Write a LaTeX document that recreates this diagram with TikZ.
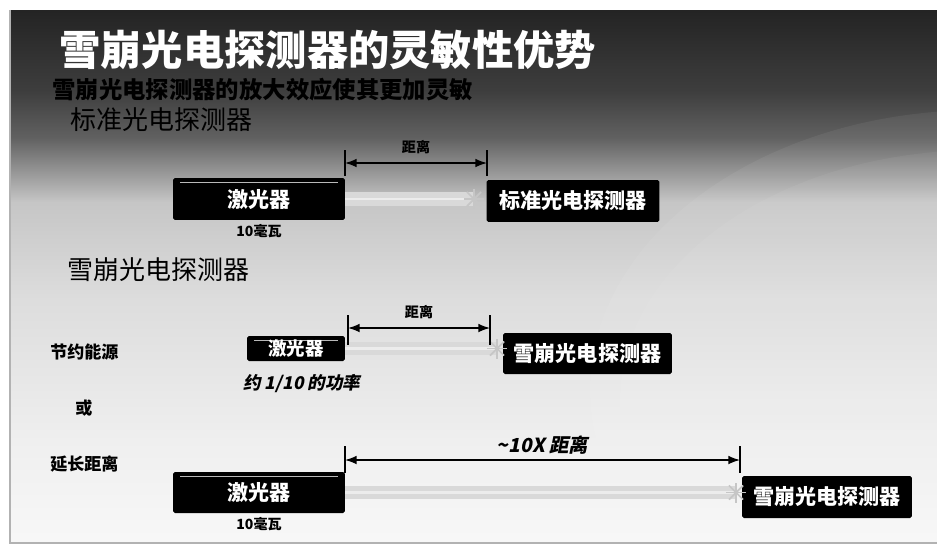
\documentclass[tikz,border=0pt]{standalone}
\usepackage{fontspec}
\setmainfont{Noto Sans CJK SC}
\newfontfamily\slfont[FakeSlant=0.2]{Noto Sans CJK SC}
\usetikzlibrary{positioning,arrows.meta}

% sfondo della slide (scuro in alto, chiaro in basso)
\pgfdeclareverticalshading{slidebg}{100bp}{color(0bp)=(gray!6); color(25bp)=(gray!6); color(34bp)=(gray!12); color(48bp)=(gray!27); color(57bp)=(gray!45); color(63bp)=(black!62); color(67.5bp)=(black!76); color(75bp)=(black!86); color(100bp)=(black!86)}

\begin{document}
\begin{tikzpicture}[x=0.02cm, y=-0.02cm, >=Latex,
    box/.style={fill=black, text=white, rounded corners=1pt, inner sep=0pt,
        font=\fontsize{12}{12}\selectfont\bfseries},
    laser/.style={box, path picture={\draw[gray!55, line width=0.5pt]
        ([xshift=4pt,yshift=-2.5pt]path picture bounding box.north west) --
        ([xshift=-4pt,yshift=-2.5pt]path picture bounding box.north east);}},
    label/.style={anchor=west, inner sep=0pt, font=\fontsize{9.7}{10}\selectfont\bfseries},
    note/.style={inner sep=0pt, font=\fontsize{8}{8}\selectfont\bfseries},
    tick/.style={line width=0.9pt},
    dim/.style={<->, line width=0.8pt},
    beam/.style={draw=gray!30, double=white!85!gray, line width=3pt, double distance=1.6pt},
    ray/.style={gray!45, line width=1pt}]

    \useasboundingbox (0,0) rectangle (937,548);

    % 1. Sfondo
    \fill[white] (0,0) rectangle (937,548);
    \shade[shading=slidebg] (10,10) rectangle (937,543);
    \begin{scope}
        \clip (10,10) rectangle (937,543);
        \fill[white, opacity=0.06] (980,390) ellipse (7.8cm and 5.6cm);
        \fill[white, opacity=0.05] (980,400) ellipse (7.2cm and 5.0cm);
    \end{scope}
    \draw[gray!60, line width=0.6pt] (10,10) -- (10,543) -- (937,543);

    % 2. Titoli
    \node[anchor=west, inner sep=0pt, text=white, font=\fontsize{23.5}{24}\selectfont\bfseries]
        (title) at (59,50) {雪崩光电探测器的灵敏性优势};
    \node[anchor=west, inner sep=0pt, font=\fontsize{13.3}{14}\selectfont\bfseries]
        (sub) at (52,90) {雪崩光电探测器的放大效应使其更加灵敏};
    \node[anchor=west, inner sep=0pt, font=\fontsize{14.8}{15}\selectfont]
        (std) at (70,120) {标准光电探测器};
    \node[anchor=west, inner sep=0pt, font=\fontsize{14.8}{15}\selectfont]
        (apd) at (67,270) {雪崩光电探测器};

    % 3. Riga 1: fotodiodo standard
    \node[laser, minimum width=3.44cm, minimum height=0.84cm] (las1) at (259,199) {激光器};
    \node[box, minimum width=3.46cm, minimum height=0.84cm] (det1) at (573,201) {标准光电探测器};
    \node[note, below=2pt of las1] (pw1) {10毫瓦};
    \coordinate (s1) at (474,199);
    \draw[beam] (las1.east) -- (s1);
    \foreach \a in {0,45,...,315} \draw[ray] (s1) -- ++(\a:10);
    \coordinate (m1a) at (345,163);
    \coordinate (m1b) at (487,163);
    \draw[tick] (m1a) ++(0,-13) -- ++(0,26);
    \draw[tick] (m1b) ++(0,-13) -- ++(0,26);
    \draw[dim] (m1a) -- node[note, above=5pt] (d1) {距离} (m1b);

    % 4. Riga 2: risparmio energetico
    \node[label] (save) at (50,352) {节约能源};
    \node[laser, minimum width=1.96cm, minimum height=0.5cm, font=\fontsize{10.5}{10.5}\selectfont\bfseries]
        (las2) at (296,348.5) {激光器};
    \node[box, minimum width=3.38cm, minimum height=0.82cm] (det2) at (587.5,353.5) {雪崩光电探测器};
    \node[anchor=west, inner sep=0pt, font=\slfont\fontsize{10}{10}\selectfont\bfseries]
        (pw2) at (243,384) {约 1/10 的功率};
    \coordinate (s2) at (497,348.5);
    \draw[beam] (las2.east) -- (s2);
    \foreach \a in {0,45,...,315} \draw[ray] (s2) -- ++(\a:10);
    \coordinate (m2a) at (348,328);
    \coordinate (m2b) at (490,328);
    \draw[tick] (m2a) ++(0,-13) -- ++(0,30);
    \draw[tick] (m2b) ++(0,-13) -- ++(0,30);
    \draw[dim] (m2a) -- node[note, above=5pt] (d2) {距离} (m2b);

    \node[label] (or) at (75,408) {或};

    % 5. Riga 3: distanza maggiore
    \node[label] (far) at (50,464) {延长距离};
    \node[laser, minimum width=3.44cm, minimum height=0.82cm] (las3) at (259,492.5) {激光器};
    \node[box, minimum width=3.4cm, minimum height=0.84cm] (det3) at (827,497) {雪崩光电探测器};
    \node[note, below=2pt of las3] (pw3) {10毫瓦};
    \coordinate (s3) at (736,492.5);
    \draw[beam] (las3.east) -- (s3);
    \foreach \a in {0,45,...,315} \draw[ray] (s3) -- ++(\a:10);
    \coordinate (m3a) at (345,460);
    \coordinate (m3b) at (740,460);
    \draw[tick] (m3a) ++(0,-14) -- ++(0,27);
    \draw[tick] (m3b) ++(0,-14) -- ++(0,27);
    \draw[dim] (m3a) -- node[above=3pt, inner sep=0pt, font=\slfont\fontsize{11}{11}\selectfont\bfseries]
        (d3) {\textasciitilde 10X 距离} (m3b);

\end{tikzpicture}
\end{document}
